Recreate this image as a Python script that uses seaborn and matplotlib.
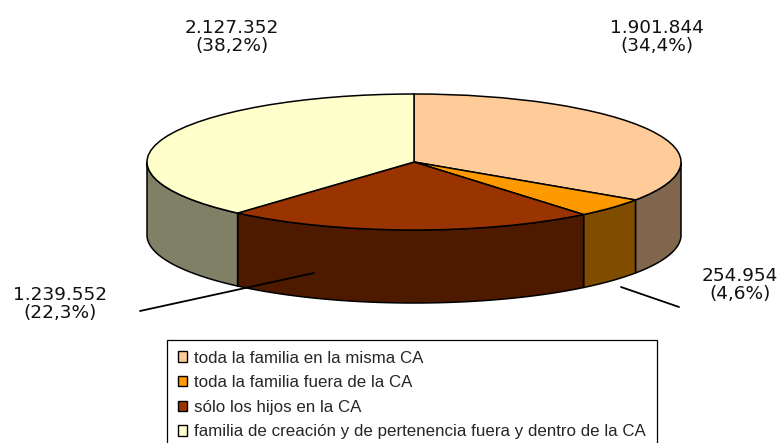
import numpy as np
import matplotlib
matplotlib.use("Agg")
import matplotlib.pyplot as plt
from matplotlib.patches import Patch
import seaborn as sns

# data
categories = ['toda la familia en la misma CA',
              'toda la familia fuera de la CA',
              'sólo los hijos en la CA',
              'familia de creación y de pertenencia fuera y dentro de la CA']
values = [1901844, 254954, 1239552, 2127352]
pct_labels = [34.4, 4.6, 22.3, 38.2]
colors = ['#FFCC99', '#FF9900', '#993300', '#FFFFCC']

# layout (pixels of the 781x443 canvas)
W, H = 781, 443
CX, CY = 414, 162      # centre of top face
RX, RY = 267, 68       # ellipse half axes
DEPTH = 73             # thickness of the pie
label_pos = [(657, 37), (740, 285), (60, 304), (232, 37)]
leaders = [None, ((621, 287), (679, 307)), ((314, 273), (140, 311)), None]

sns.set_style("white")
plt.rcParams['font.family'] = ['DejaVu Sans']

fig = plt.figure(figsize=(W / 100, H / 100), dpi=100)
ax = fig.add_axes([0, 0, 1, 1])

wedges, _ = ax.pie(values, colors=colors, startangle=90, counterclock=False,
                   radius=1, center=(0, 0),
                   wedgeprops=dict(edgecolor='black', linewidth=1.1))
ax.set_aspect('auto')
ax.set_xlim(-CX / RX, (W - CX) / RX)
ax.set_ylim(-(H - CY) / RY, CY / RY)
ax.axis('off')

# side walls of the front half, darker shade of each slice colour
d = DEPTH / RY
for w, c in zip(wedges, colors):
    w.set_zorder(3)
    lo, hi = w.theta1, w.theta2
    for k in (-360, 0, 360):
        a, b = max(lo, -180 + k), min(hi, k)
        if a >= b:
            continue
        t = np.radians(np.linspace(a, b, 80))
        xs = np.concatenate([np.cos(t), np.cos(t[::-1])])
        ys = np.concatenate([np.sin(t), np.sin(t[::-1]) - d])
        side = tuple(0.5 * v for v in matplotlib.colors.to_rgb(c))
        ax.fill(xs, ys, facecolor=side, edgecolor='black', linewidth=1.1, zorder=2)

def fig_px(x, y):
    return (x / W, 1 - y / H)

for v, p, pos, ld in zip(values, pct_labels, label_pos, leaders):
    txt = f"{v:,}".replace(",", ".") + "\n(" + f"{p:.1f}".replace(".", ",") + "%)"
    fig.text(*fig_px(*pos), txt, ha='center', va='center', ma='center',
             fontsize=13.3, linespacing=1.0, color='#111111')
    if ld:
        ax.annotate('', xy=fig_px(*ld[0]), xytext=fig_px(*ld[1]),
                    xycoords='figure fraction', textcoords='figure fraction',
                    arrowprops=dict(arrowstyle='-', lw=1.3, color='black',
                                    shrinkA=0, shrinkB=0), zorder=5)

handles = [Patch(facecolor=c, edgecolor='black', linewidth=1) for c in colors]
x0, ytop = fig_px(167, 340)
leg = fig.legend(handles, categories, loc='upper left',
                 bbox_to_anchor=(x0, 0, (657 - 167) / W, ytop), mode='expand',
                 prop={'family': 'Liberation Sans', 'size': 12.2},
                 borderaxespad=0, borderpad=0.62, labelspacing=0.57,
                 handlelength=0.55, handleheight=0.55, handletextpad=0.45,
                 fancybox=False, framealpha=1, edgecolor='black')
leg.get_frame().set_linewidth(0.9)

fig.savefig('out.png', dpi=100)
